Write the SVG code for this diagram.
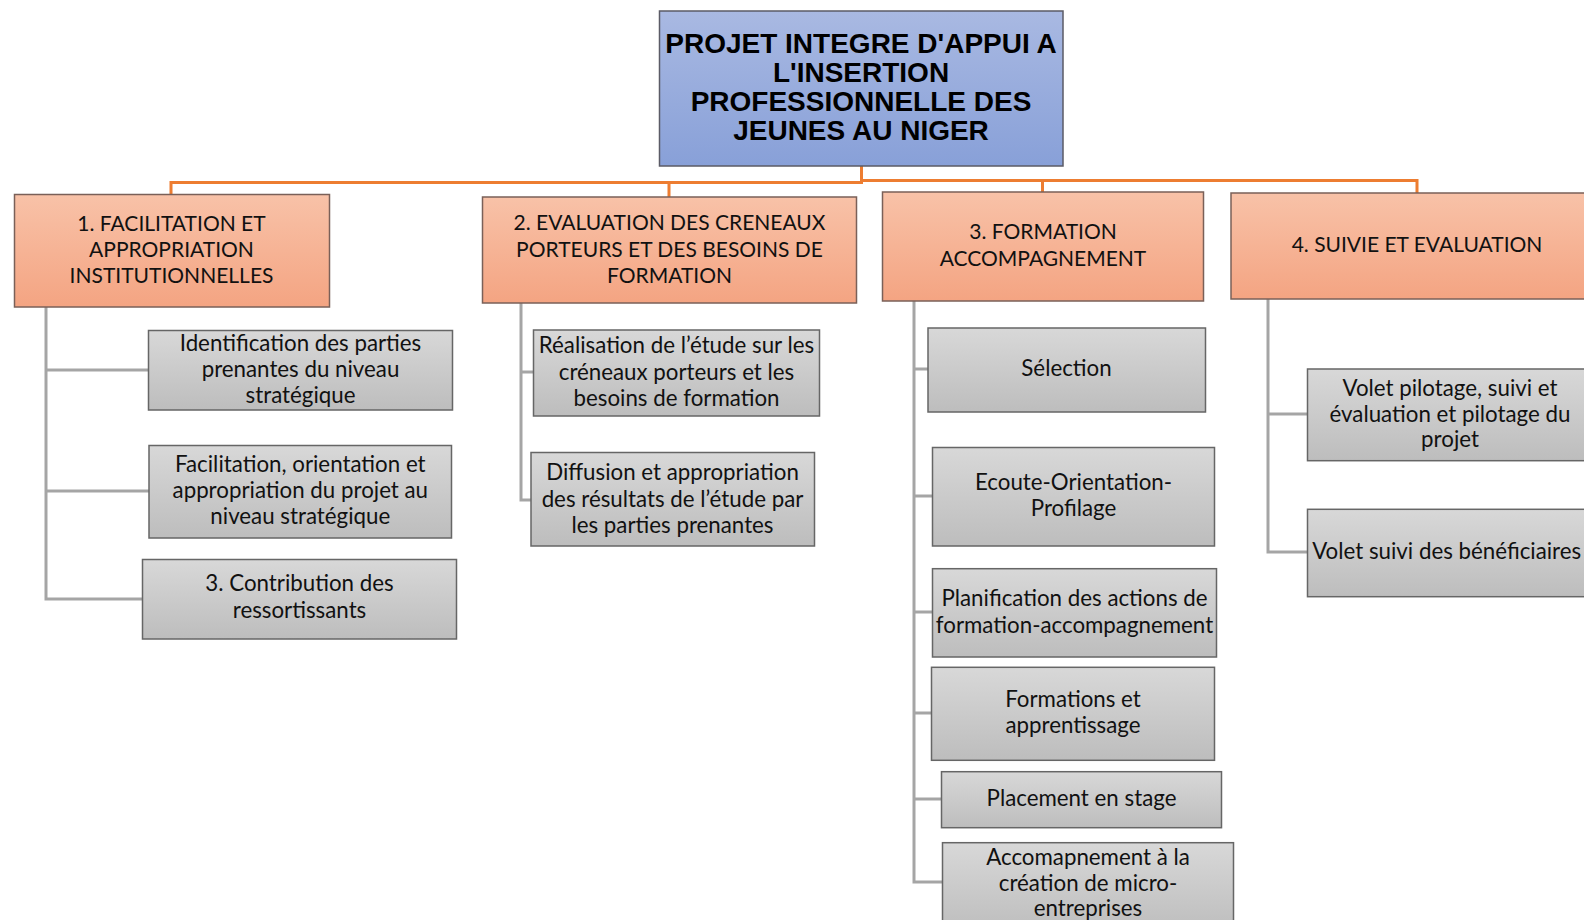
<svg xmlns="http://www.w3.org/2000/svg" width="1584" height="920" viewBox="0 0 1584 920">
<defs>
<linearGradient id="gRoot" x1="0" y1="0" x2="0" y2="1"><stop offset="0" stop-color="#a9b9e2"/><stop offset="1" stop-color="#88a0d8"/></linearGradient>
<linearGradient id="gOr" x1="0" y1="0" x2="0" y2="1"><stop offset="0" stop-color="#f8c2a8"/><stop offset="1" stop-color="#f4a482"/></linearGradient>
<linearGradient id="gGr" x1="0" y1="0" x2="0" y2="1"><stop offset="0" stop-color="#d8d8d8"/><stop offset="1" stop-color="#bdbdbd"/></linearGradient>
</defs>
<style>
.root{fill:url(#gRoot);stroke:#5b5b66;stroke-width:1.5}
.or{fill:url(#gOr);stroke:#7a6058;stroke-width:1.5}
.gr{fill:url(#gGr);stroke:#666;stroke-width:1.5}
.t{font-family:Lato,"Open Sans",sans-serif;font-size:21px;fill:#111;text-anchor:middle}
.s{font-family:Lato,"Open Sans",sans-serif;font-size:22.3px;fill:#111;text-anchor:middle}
.rt{font-family:"Liberation Sans",Arial,sans-serif;font-weight:bold;font-size:28px;fill:#000;text-anchor:middle}
.co{fill:none;stroke:#ed7d31;stroke-width:3}
.cg{fill:none;stroke:#a5a5a5;stroke-width:3}
</style>
<rect width="1584" height="920" fill="#fff"/>
<g id="connectors">
<path class="co" d="M861.5 166V182.5H171V195M669 182.5V197M861.5 180.5H1042.5V192M1042.5 180.5H1417V193"/>
<path class="cg" d="M46 307V599H142M46 370H148.5M46 491H149"/>
<path class="cg" d="M521 303V500H531M521 372H533"/>
<path class="cg" d="M914 301V882H942M914 369H928M914 496H932M914 612H932M914 713H931M914 799H941"/>
<path class="cg" d="M1268 299V552H1307M1268 414H1307"/>
</g>
<g id="root"><rect class="root" x="659.5" y="11" width="403.5" height="155"/>
<text class="rt" x="861"><tspan x="861" y="53">PROJET INTEGRE D'APPUI A</tspan><tspan x="861" y="82">L'INSERTION</tspan><tspan x="861" y="111">PROFESSIONNELLE DES</tspan><tspan x="861" y="140">JEUNES AU NIGER</tspan></text></g>
<g id="n1"><rect class="or" x="14.5" y="194.5" width="315" height="112.5"/>
<text class="t"><tspan x="171.5" y="231">1. FACILITATION ET</tspan><tspan x="171.5" y="257">APPROPRIATION</tspan><tspan x="171.5" y="283">INSTITUTIONNELLES</tspan></text></g>
<g id="n1a"><rect class="gr" x="148.5" y="330.5" width="304" height="79.5"/>
<text class="s"><tspan x="300.5" y="350.5">Identification des parties</tspan><tspan x="300.5" y="376.5">prenantes du niveau</tspan><tspan x="300.5" y="402.5">stratégique</tspan></text></g>
<g id="n1b"><rect class="gr" x="149" y="445.5" width="302.5" height="92.5"/>
<text class="s"><tspan x="300.3" y="472">Facilitation, orientation et</tspan><tspan x="300.3" y="498">appropriation du projet au</tspan><tspan x="300.3" y="524">niveau stratégique</tspan></text></g>
<g id="n1c"><rect class="gr" x="142.5" y="559.5" width="314" height="79.5"/>
<text class="s"><tspan x="299.5" y="591">3. Contribution des</tspan><tspan x="299.5" y="617.5">ressortissants</tspan></text></g>
<g id="n2"><rect class="or" x="482.5" y="197" width="374" height="106"/>
<text class="t"><tspan x="669.5" y="230">2. EVALUATION DES CRENEAUX</tspan><tspan x="669.5" y="256.5">PORTEURS ET DES BESOINS DE</tspan><tspan x="669.5" y="283">FORMATION</tspan></text></g>
<g id="n2a"><rect class="gr" x="533.5" y="330" width="286" height="86"/>
<text class="s"><tspan x="676.5" y="353.3">Réalisation de l’étude sur les</tspan><tspan x="676.5" y="379.7">créneaux porteurs et les</tspan><tspan x="676.5" y="406">besoins de formation</tspan></text></g>
<g id="n2b"><rect class="gr" x="531" y="452.5" width="283.5" height="93.5"/>
<text class="s"><tspan x="672.5" y="480">Diffusion et appropriation</tspan><tspan x="672.5" y="506.5">des résultats de l’étude par</tspan><tspan x="672.5" y="533">les parties prenantes</tspan></text></g>
<g id="n3"><rect class="or" x="882.5" y="192" width="321" height="109"/>
<text class="t"><tspan x="1043" y="239.3">3. FORMATION</tspan><tspan x="1043" y="266">ACCOMPAGNEMENT</tspan></text></g>
<g id="n3a"><rect class="gr" x="928" y="328" width="277.5" height="84"/>
<text class="s" x="1066.5" y="376">Sélection</text></g>
<g id="n3b"><rect class="gr" x="932.5" y="447.5" width="282" height="98.5"/>
<text class="s"><tspan x="1073.5" y="489.5">Ecoute-Orientation-</tspan><tspan x="1073.5" y="516">Profilage</tspan></text></g>
<g id="n3c"><rect class="gr" x="932.5" y="568.7" width="284" height="88.3"/>
<text class="s"><tspan x="1074.5" y="606">Planification des actions de</tspan><tspan x="1074.5" y="632.5">formation-accompagnement</tspan></text></g>
<g id="n3d"><rect class="gr" x="931.5" y="667.3" width="283" height="93"/>
<text class="s"><tspan x="1073" y="706.7">Formations et</tspan><tspan x="1073" y="733.3">apprentissage</tspan></text></g>
<g id="n3e"><rect class="gr" x="941.5" y="771.7" width="280" height="56"/>
<text class="s" x="1081.5" y="806">Placement en stage</text></g>
<g id="n3f"><rect class="gr" x="942.5" y="842.7" width="291" height="90"/>
<text class="s"><tspan x="1088" y="864.5">Accomapnement à la</tspan><tspan x="1088" y="890.5">création de micro-</tspan><tspan x="1088" y="916">entreprises</tspan></text></g>
<g id="n4"><rect class="or" x="1231" y="193" width="372" height="106"/>
<text class="t" x="1417" y="251.7">4. SUIVIE ET EVALUATION</text></g>
<g id="n4a"><rect class="gr" x="1307.5" y="369" width="284" height="91.7"/>
<text class="s"><tspan x="1450" y="395.5">Volet pilotage, suivi et</tspan><tspan x="1450" y="421.5">évaluation et pilotage du</tspan><tspan x="1450" y="447">projet</tspan></text></g>
<g id="n4b"><rect class="gr" x="1307.5" y="509.3" width="284" height="87.4"/>
<text class="s" x="1446.7" y="558.5">Volet suivi des bénéficiaires</text></g>
</svg>
